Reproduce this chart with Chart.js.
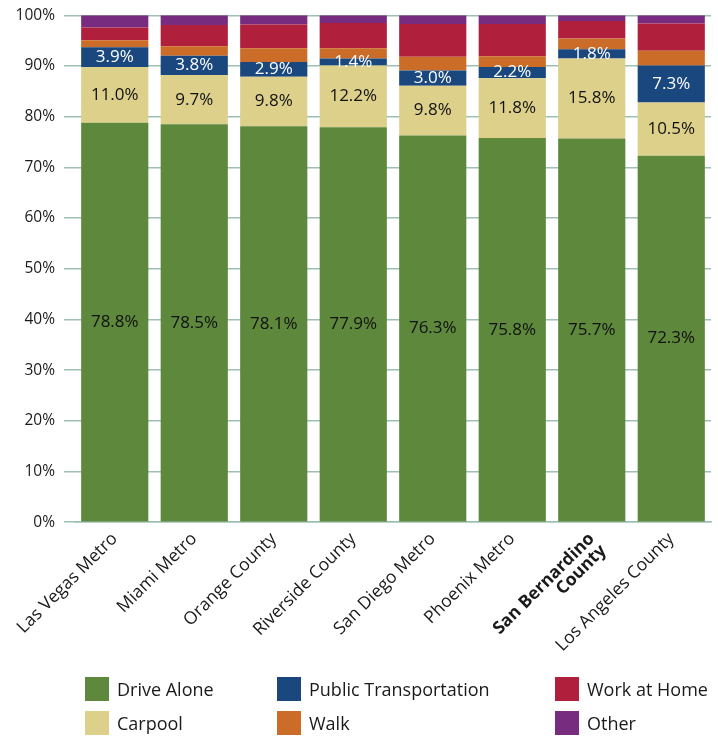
<!DOCTYPE html>
<html>
<head>
<meta charset="utf-8">
<script src="https://cdn.jsdelivr.net/npm/chart.js@4"></script>
<style>
  body { margin: 0; background: #fff; font-family: "Open Sans", sans-serif; overflow: hidden; }
  #wrap { position: absolute; left: 0; top: -3px; width: 718px; height: 677px; }
  #legend { position: absolute; left: 0; top: 667px; width: 718px; height: 69px; }
  .item { position: absolute; display: flex; align-items: center; font-size: 18px; color: #1a1a1a; }
  .box { width: 24px; height: 24px; margin-right: 8px; }
</style>
</head>
<body>
<div id="wrap"><canvas id="chart"></canvas></div>
<div id="legend"></div>
<script>
const categories = ['Las Vegas Metro', 'Miami Metro', 'Orange County', 'Riverside County',
    'San Diego Metro', 'Phoenix Metro', ['San Bernardino', 'County'], 'Los Angeles County'];

const driveAlone = [78.8, 78.5, 78.1, 77.9, 76.3, 75.8, 75.7, 72.3];
const carpool = [11.0, 9.7, 9.8, 12.2, 9.8, 11.8, 15.8, 10.5];
const publicTransit = [3.9, 3.8, 2.9, 1.4, 3.0, 2.2, 1.8, 7.3];
const walk = [1.4, 1.9, 2.7, 2.0, 2.7, 2.1, 2.1, 2.9];
const workAtHome = [2.5, 4.2, 4.7, 5.0, 6.5, 6.4, 3.5, 5.4];
const other = [2.4, 1.9, 1.8, 1.5, 1.7, 1.7, 1.1, 1.6];

const yTicks = [0, 10, 20, 30, 40, 50, 60, 70, 80, 90, 100];

const colors = {
    drive: '#5e883b',
    carpool: '#dcd08b',
    transit: '#1a477e',
    walk: '#cb6c28',
    home: '#b01f3c',
    other: '#782c80'
};

const datasets = [
    { label: 'Drive Alone', data: driveAlone, backgroundColor: colors.drive, showValue: true, valueColor: '#111' },
    { label: 'Carpool', data: carpool, backgroundColor: colors.carpool, showValue: true, valueColor: '#111' },
    { label: 'Public Transportation', data: publicTransit, backgroundColor: colors.transit, showValue: true, valueColor: '#fff' },
    { label: 'Walk', data: walk, backgroundColor: colors.walk },
    { label: 'Work at Home', data: workAtHome, backgroundColor: colors.home },
    { label: 'Other', data: other, backgroundColor: colors.other }
];

// value labels in the middle of the first three segments
const valueLabels = {
    id: 'valueLabels',
    afterDatasetsDraw(chart) {
        const ctx = chart.ctx;
        ctx.save();
        ctx.font = '17px "Open Sans", sans-serif';
        ctx.textAlign = 'center';
        ctx.textBaseline = 'middle';
        chart.data.datasets.forEach((ds, i) => {
            if (!ds.showValue) return;
            chart.getDatasetMeta(i).data.forEach((bar, j) => {
                const yMid = (bar.y + bar.base) / 2;
                ctx.fillStyle = ds.valueColor;
                ctx.fillText(ds.data[j].toFixed(1) + '%', bar.x, yMid);
            });
        });
        ctx.restore();
    }
};

const chart = new Chart(document.getElementById('chart'), {
    type: 'bar',
    data: { labels: categories, datasets: datasets },
    options: {
        responsive: true,
        maintainAspectRatio: false,
        animation: false,
        layout: { padding: { top: 11, right: 7, left: 0, bottom: 0 } },
        plugins: { legend: { display: false }, tooltip: { enabled: false } },
        datasets: { bar: { categoryPercentage: 1, barPercentage: 0.845, borderWidth: 0 } },
        scales: {
            x: {
                stacked: true,
                grid: { display: false, drawTicks: false },
                border: { display: true, color: '#9dbfb4', width: 1.5 },
                ticks: {
                    color: '#1a1a1a',
                    maxRotation: 45,
                    minRotation: 45,
                    padding: 8,
                    font: (c) => ({ family: '"Open Sans", sans-serif', size: 17.5, weight: c.index === 6 ? 'bold' : 'normal', lineHeight: 0.95 })
                }
            },
            y: {
                stacked: true,
                min: 0,
                max: 100,
                afterBuildTicks: (axis) => { axis.ticks = yTicks.map(v => ({ value: v })); },
                afterFit: (axis) => { axis.width = 75; },
                grid: { color: '#9dbfb4', lineWidth: 1.5, tickLength: 11 },
                border: { display: false },
                ticks: {
                    color: '#1a1a1a',
                    padding: 9,
                    font: { family: '"Open Sans", sans-serif', size: 15.5 },
                    callback: (v) => v + '%'
                }
            }
        }
    },
    plugins: [valueLabels]
});

// legend laid out in three columns like the original
const legendPos = [
    ['Drive Alone', colors.drive, 85, 0],
    ['Public Transportation', colors.transit, 277, 0],
    ['Work at Home', colors.home, 555, 0],
    ['Carpool', colors.carpool, 85, 34],
    ['Walk', colors.walk, 277, 34],
    ['Other', colors.other, 555, 34]
];
const legend = document.getElementById('legend');
legendPos.forEach(([name, col, x, y]) => {
    const el = document.createElement('div');
    el.className = 'item';
    el.style.left = x + 'px';
    el.style.top = (y + 10) + 'px';
    el.innerHTML = '<span class="box" style="background:' + col + '"></span>' + name;
    legend.appendChild(el);
});
</script>
</body>
</html>
